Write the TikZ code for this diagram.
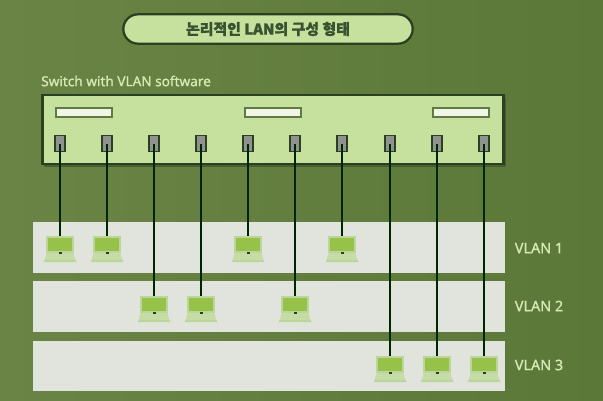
\documentclass[tikz,border=0pt]{standalone}
\usepackage{fontspec}
\setmainfont[FakeBold=1.2]{Noto Sans}
\newfontfamily\krfont[FakeBold=1.5]{Noto Sans CJK KR}
\usetikzlibrary{calc}
\definecolor{bgL}{HTML}{6A8445}
\definecolor{bgR}{HTML}{5B7838}
\definecolor{paleG}{HTML}{C6E09D}
\definecolor{darkL}{HTML}{2C3F22}
\definecolor{titleT}{HTML}{3A5230}
\definecolor{bandC}{HTML}{E1E4DC}
\definecolor{scrC}{HTML}{97C24A}
\definecolor{scrE}{HTML}{BCD59B}
\definecolor{baseC}{HTML}{C6DCA6}
\definecolor{portC}{HTML}{8E9390}
\definecolor{winE}{HTML}{5F7A45}
\definecolor{winC}{HTML}{F1F5E6}
\definecolor{labelC}{HTML}{D6E8B4}
\definecolor{shadowC}{HTML}{46602F}
\tikzset{
  x=0.75pt,y=-0.75pt,
  titlepill/.style={draw=darkL,line width=1.7pt,fill=paleG,rounded corners=11pt,minimum width=217pt,minimum height=22pt,inner sep=0pt,text=titleT,font=\krfont\bfseries\fontsize{11.2pt}{13pt}\selectfont},
  switchbox/.style={draw=darkL,line width=1.9pt,fill=paleG,minimum width=346pt,minimum height=51.5pt,inner sep=0pt},
  winbox/.style={draw=winE,line width=1.5pt,fill=winC,minimum width=42pt,minimum height=6.5pt,inner sep=0pt},
  portbox/.style={draw=darkL,line width=1.4pt,fill=portC,minimum width=8pt,minimum height=12pt,inner sep=0pt},
  band/.style={fill=bandC,minimum width=354pt,inner sep=0pt},
  vlanlabel/.style={text=labelC,font=\bfseries\fontsize{10.8pt}{12pt}\selectfont,inner sep=0pt},
  swlabel/.style={text=labelC,font=\bfseries\fontsize{10.2pt}{12pt}\selectfont,inner sep=0pt,anchor=west},
  cable/.style={draw=black!85!green,line width=1.7pt},
  screenbox/.style={draw=scrE,line width=1.5pt,fill=scrC,minimum width=19pt,minimum height=11.5pt,inner sep=0pt},
  pics/laptop/.style={code={
    \fill[baseC] (-13,7) -- (13,7) -- (15.5,15) -- (-15.5,15) -- cycle;
    \fill[scrE] (-15.5,15) -- (15.5,15) -- (16.5,17) -- (-16.5,17) -- cycle;
    \node[screenbox] (-scr) at (0,-0.5) {};
    \fill[darkL] (-1.5,6.5) rectangle (1.5,8.5);
  }}
}
\begin{document}
\begin{tikzpicture}
\useasboundingbox (0,0) rectangle (603,400);
\shade[left color=bgL,right color=bgR] (0,0) rectangle (603,400);

\node[titlepill] (title) at (268,29) {논리적인 LAN의 구성 형태};
\node[swlabel] (swl) at (41,81) {Switch with VLAN software};

\fill[shadowC] (44,98) rectangle (506,167);
\node[switchbox] (sw) at (273,129.5) {};
\node[winbox] (w1) at (83.5,112.5) {};
\node[winbox] (w2) at (273,112.5) {};
\node[winbox] (w3) at (461,112.5) {};

\node[band,minimum height=38.5pt] (b1) at (269,247.5) {};
\node[band,minimum height=38.5pt] (b2) at (269,306.5) {};
\node[band,minimum height=38pt] (b3) at (269,366) {};
\node[vlanlabel] (l1) at (539,248) {VLAN 1};
\node[vlanlabel] (l2) at (539,306) {VLAN 2};
\node[vlanlabel] (l3) at (539,365) {VLAN 3};

\foreach \n/\x/\y in {1/60/245,2/107/245,3/154/305,4/201/305,5/248/245,6/295/305,7/342/245,8/390/365,9/437/365,10/484/365}{
  \node[portbox] (p\n) at (\x,143.5) {};
  \pic (lap\n) at (\x,\y) {laptop};
  \draw[cable] (p\n.center) -- (lap\n-scr.north);
}
\end{tikzpicture}
\end{document}
